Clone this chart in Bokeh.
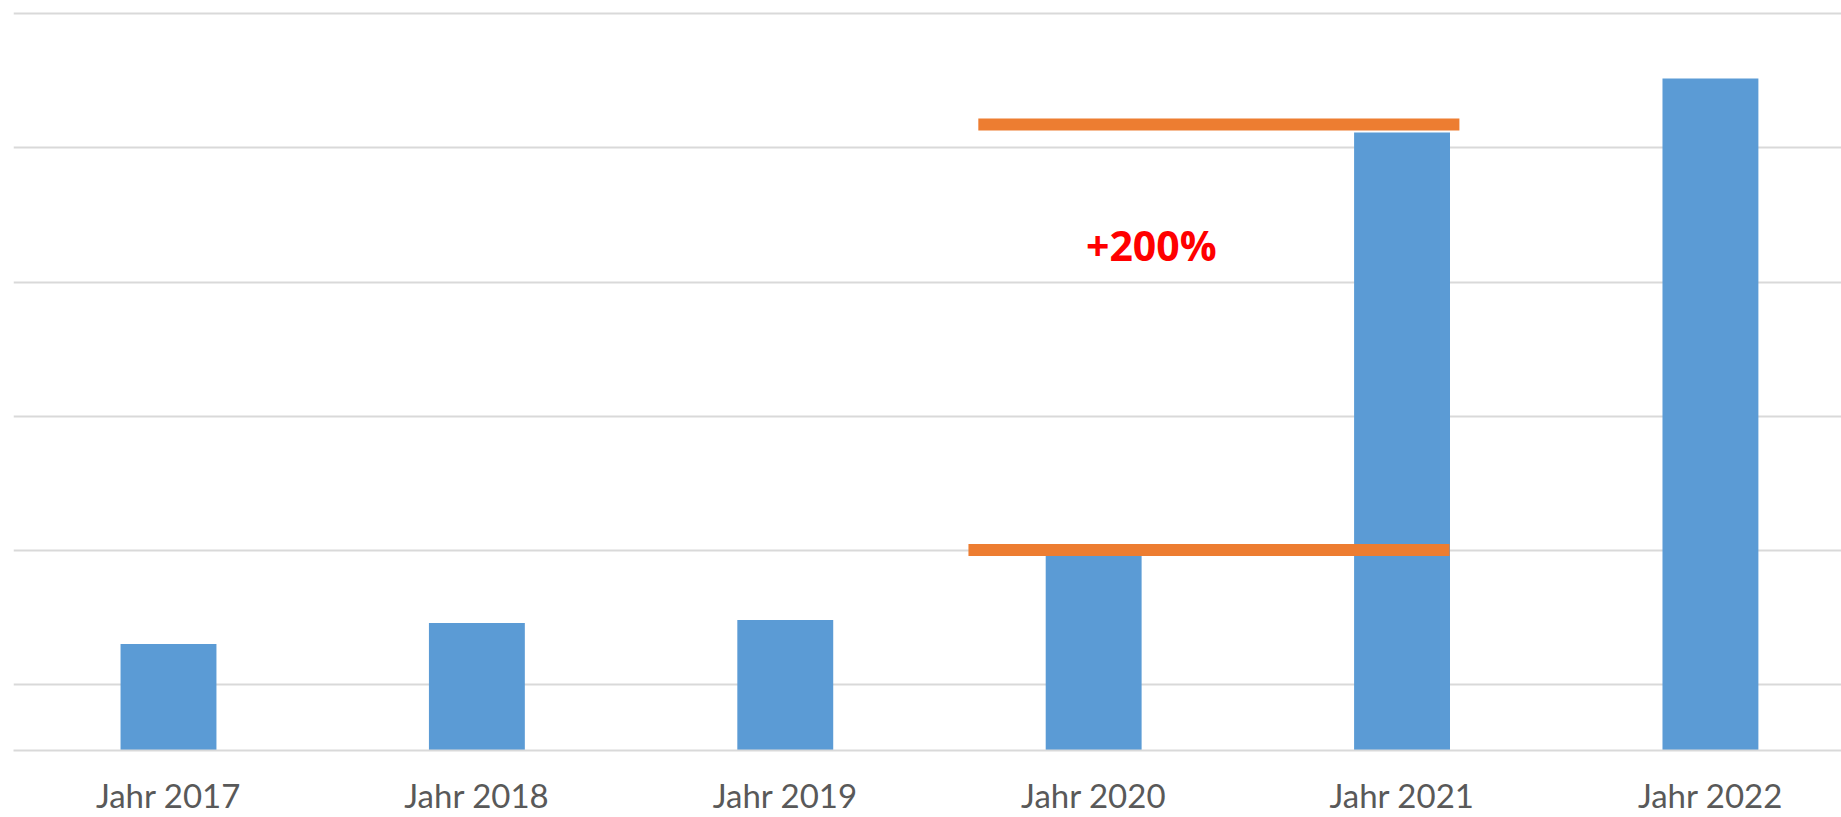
from bokeh.plotting import figure
from bokeh.models import Range1d, FixedTicker, ColumnDataSource
from bokeh.core.properties import value
from bokeh.embed import file_html
from bokeh.resources import INLINE

# Data
categories = ["Jahr 2017", "Jahr 2018", "Jahr 2019", "Jahr 2020", "Jahr 2021", "Jahr 2022"]
values = [79.4, 95.0, 97.2, 147.3, 460.3, 500.5]
grid_values = [48.9, 148.9, 248.9, 348.9, 448.9, 548.9]

# Annotation (comparison lines and label)
upper_line_x = [2.626, 4.186]
upper_line_y = [466.3, 466.3]
lower_line_x = [2.594, 4.154]
lower_line_y = [149.3, 149.3]
annot_text = "+200%"
annot_x = 3.187
annot_y = 376.5

xs = list(range(len(categories)))
src = ColumnDataSource(dict(x=xs, top=values, cat=categories))

p = figure(width=1841, height=817, output_backend="svg", toolbar_location=None,
           x_range=Range1d(-0.5026, 5.425), y_range=Range1d(0, 558.6),
           min_border_left=13, min_border_right=0, min_border_top=0, min_border_bottom=66)
p.outline_line_color = None
p.background_fill_color = "white"
p.border_fill_color = "white"

p.vbar(x="x", top="top", bottom=0, width=0.311, source=src, fill_color="#5b9bd5", line_color=None)

p.line(upper_line_x, upper_line_y, line_color="#ed7d31", line_width=12, line_cap="butt")
p.line(lower_line_x, lower_line_y, line_color="#ed7d31", line_width=12, line_cap="butt")

p.text(x=[annot_x], y=[annot_y], text=[annot_text], text_color="#ff0000",
       text_font=value("Open Sans"), text_font_style="bold", text_font_size="41px",
       text_align="center", text_baseline="middle")

# Axes
p.yaxis.visible = False
p.xgrid.visible = False
p.ygrid.ticker = FixedTicker(ticks=grid_values)
p.ygrid.grid_line_color = "#d9d9d9"
p.ygrid.grid_line_width = 2

p.xaxis.ticker = FixedTicker(ticks=xs)
p.xaxis.major_label_overrides = {i: c for i, c in zip(xs, categories)}
p.xaxis.axis_line_color = "#d9d9d9"
p.xaxis.axis_line_width = 2
p.xaxis.major_tick_line_color = None
p.xaxis.minor_tick_line_color = None
p.xaxis.major_tick_out = 0
p.xaxis.major_tick_in = 0
p.xaxis.major_label_standoff = 24
p.xaxis.major_label_text_font = "Lato"
p.xaxis.major_label_text_font_size = "33px"
p.xaxis.major_label_text_color = "#595959"

open("out.html", "w").write(file_html(p, INLINE))
